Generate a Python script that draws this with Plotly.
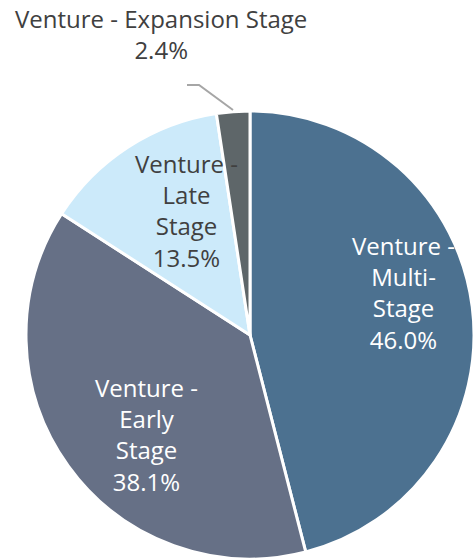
import plotly.graph_objects as go

labels = ["Venture - Multi-Stage", "Venture - Early Stage", "Venture - Late Stage", "Venture - Expansion Stage"]
label_lines = [["Venture -", "Multi-", "Stage"], ["Venture -", "Early", "Stage"], ["Venture -", "Late", "Stage"], ["Venture - Expansion Stage"]]
values = [46.0, 38.1, 13.5, 2.4]
colors = ["#4C7190", "#667086", "#CCEAFA", "#5E6669"]
text_colors = ["#FFFFFF", "#FFFFFF", "#404040", "#404040"]

W, H = 475, 560
FONT = "'Open Sans', Lato, sans-serif"

fig = go.Figure(go.Pie(
    labels=labels,
    values=values,
    sort=False,
    direction="clockwise",
    rotation=0,
    marker=dict(colors=colors, line=dict(color="#FFFFFF", width=3)),
    textinfo="none",
    hoverinfo="label+percent",
    showlegend=False,
    domain=dict(x=[25 / W, 475 / W], y=[1 - 559 / H, 1 - 111 / H]),
))

# label centres in pixels (layout only)
label_pos = [(403, 292), (146, 434), (186, 210), (161, 34)]
annotations = []
for i, (lines, v) in enumerate(zip(label_lines, values)):
    x, y = label_pos[i]
    annotations.append(dict(
        x=x / W, y=1 - y / H, xref="paper", yref="paper",
        xanchor="center", yanchor="middle", showarrow=False,
        text="<br>".join(lines + [f"{v:.1f}%"]),
        font=dict(family=FONT, size=24, color=text_colors[i]),
        align="center",
    ))

fig.update_layout(
    width=W, height=H,
    margin=dict(l=0, r=0, t=0, b=0),
    paper_bgcolor="#FFFFFF",
    plot_bgcolor="#FFFFFF",
    annotations=annotations,
    shapes=[dict(
        type="path", xref="paper", yref="paper",
        path=f"M {187/W},{1-85/H} L {199/W},{1-85/H} L {233/W},{1-110/H}",
        line=dict(color="#A6A6A6", width=2),
    )],
)

fig.write_html(
    "out.html",
    config={"displayModeBar": False},
    post_script="document.body.style.margin='0';document.body.style.overflow='hidden';",
)
